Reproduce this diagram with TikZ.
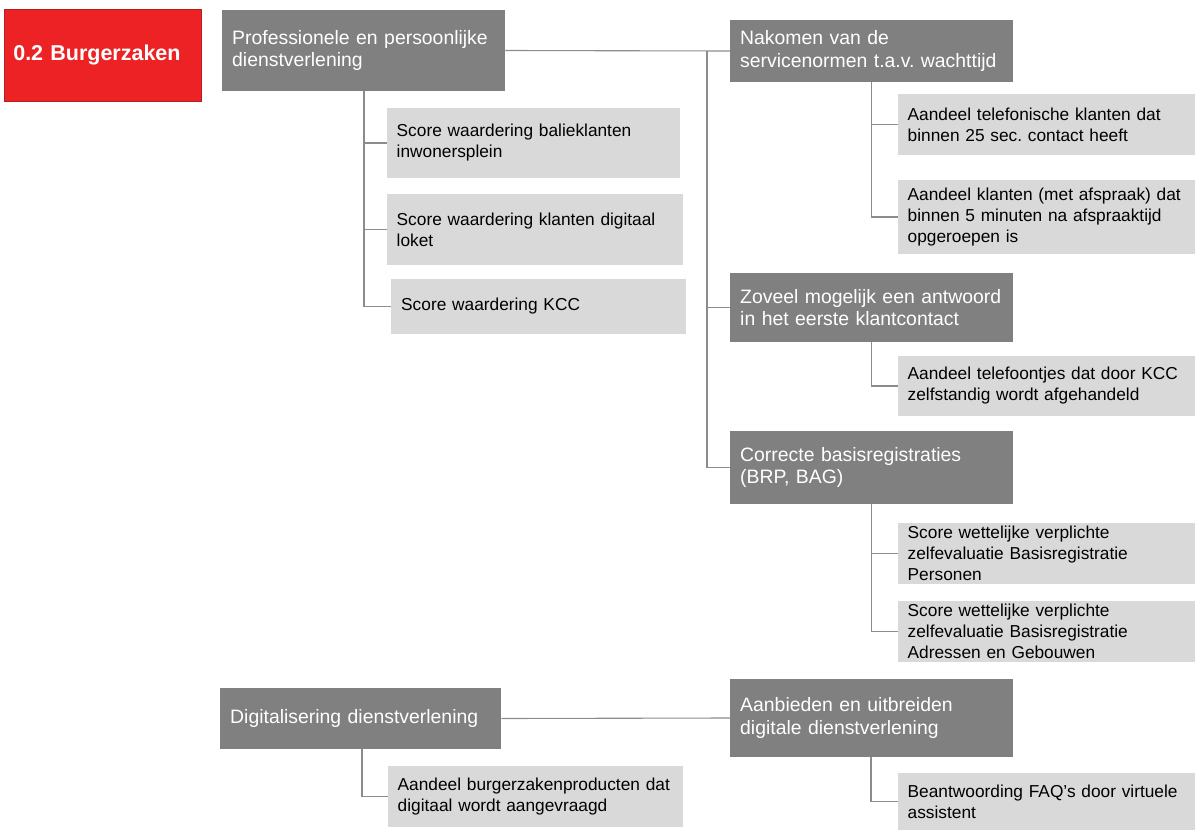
\documentclass[tikz,border=0pt]{standalone}
\usepackage{fontspec}
\setmainfont{Liberation Sans}
\frenchspacing
\definecolor{dgray}{RGB}{128,128,128}
\definecolor{lgray}{RGB}{217,217,217}
\definecolor{bred}{RGB}{237,34,36}
\definecolor{dred}{RGB}{180,30,30}
\definecolor{lnc}{RGB}{140,140,140}
\begin{document}
\begin{tikzpicture}[x=1pt,y=-1pt,
  darkbox/.style={fill=dgray, text=white, anchor=west, align=left, inner xsep=10pt, inner ysep=0pt,
    font=\fontsize{19.4}{22.5}\selectfont\frenchspacing},
  lightbox/.style={fill=lgray, text=black, anchor=west, align=left, inner xsep=9.5pt, inner ysep=0pt,
    font=\fontsize{17.3}{21}\selectfont\frenchspacing},
  conn/.style={draw=lnc, line width=1.1pt}]
\useasboundingbox (0,0) rectangle (1195,830);

% title
\node[fill=bred, draw=dred, line width=0.6pt, text=white, anchor=west, align=left,
  inner xsep=9pt, inner ysep=0pt, text width=179pt, minimum height=92pt,
  font=\fontsize{21.5}{25}\selectfont\bfseries] (title) at (4,55) {0.2 Burgerzaken};

% left column
\node[darkbox, text width=263pt, minimum height=81pt] (prof) at (222,50.5) {Professionele en persoonlijke\\dienstverlening};
\node[lightbox, text width=274pt, minimum height=70pt] (pc1) at (387,143) {Score waardering balieklanten\\inwonersplein};
\node[lightbox, text width=277pt, minimum height=71pt] (pc2) at (387,229.5) {Score waardering klanten digitaal\\loket};
\node[lightbox, text width=276pt, minimum height=55pt, inner xsep=9.5pt] (pc3) at (391,306.5) {\hspace*{0.5pt}Score waardering KCC};

% right column
\node[darkbox, text width=263pt, minimum height=62pt] (nak) at (730,51) {Nakomen van de\\servicenormen t.a.v. wachttijd};
\node[lightbox, text width=278pt, minimum height=61pt] (nc1) at (898,124.5) {Aandeel telefonische klanten dat\\binnen 25 sec. contact heeft};
\node[lightbox, text width=278pt, minimum height=74pt] (nc2) at (898,217) {Aandeel klanten (met afspraak) dat\\binnen 5 minuten na afspraaktijd\\opgeroepen is};

\node[darkbox, text width=263pt, minimum height=69pt] (zov) at (730,307.5) {Zoveel mogelijk een antwoord\\in het eerste klantcontact};
\node[lightbox, text width=278pt, minimum height=60pt] (zc1) at (898,386) {Aandeel telefoontjes dat door KCC\\zelfstandig wordt afgehandeld};

\node[darkbox, text width=263pt, minimum height=73pt] (cor) at (730,467.5) {Correcte basisregistraties\\(BRP, BAG)};
\node[lightbox, text width=278pt, minimum height=61pt] (cc1) at (898,553.5) {Score wettelijke verplichte\\zelfevaluatie Basisregistratie\\Personen};
\node[lightbox, text width=278pt, minimum height=61pt] (cc2) at (898,631.5) {Score wettelijke verplichte\\zelfevaluatie Basisregistratie\\Adressen en Gebouwen};

% bottom
\node[darkbox, text width=261pt, minimum height=61pt] (dig) at (220,718.5) {Digitalisering dienstverlening};
\node[lightbox, text width=276pt, minimum height=61pt] (dc1) at (388,796.5) {Aandeel burgerzakenproducten dat\\digitaal wordt aangevraagd};
\node[darkbox, text width=263pt, minimum height=78pt] (aan) at (730,718) {Aanbieden en uitbreiden\\digitale dienstverlening};
\node[lightbox, text width=278pt, minimum height=57pt] (ac1) at (898,801.5) {Beantwoording FAQ’s door virtuele\\assistent};

% connectors
\coordinate (tp) at (364,91);
\draw[conn] (tp) |- (pc1.west);
\draw[conn] (tp) |- (pc2.west);
\draw[conn] (tp) |- (pc3.west);

\draw[conn] (prof.east) -- (nak.west);
\coordinate (tm) at (707,51);
\draw[conn] (tm) |- (zov.west);
\draw[conn] (tm) |- (cor.west);

\coordinate (tn) at (871.5,82);
\draw[conn] (tn) |- (nc1.west);
\draw[conn] (tn) |- (nc2.west);

\coordinate (tz) at (871.5,342);
\draw[conn] (tz) |- (zc1.west);

\coordinate (tc) at (871.5,504);
\draw[conn] (tc) |- (cc1.west);
\draw[conn] (tc) |- (cc2.west);

\draw[conn] (dig.east) -- (aan.west);
\coordinate (td) at (362,749);
\draw[conn] (td) |- (dc1.west);
\coordinate (ta) at (871,757);
\draw[conn] (ta) |- (ac1.west);
\end{tikzpicture}
\end{document}
